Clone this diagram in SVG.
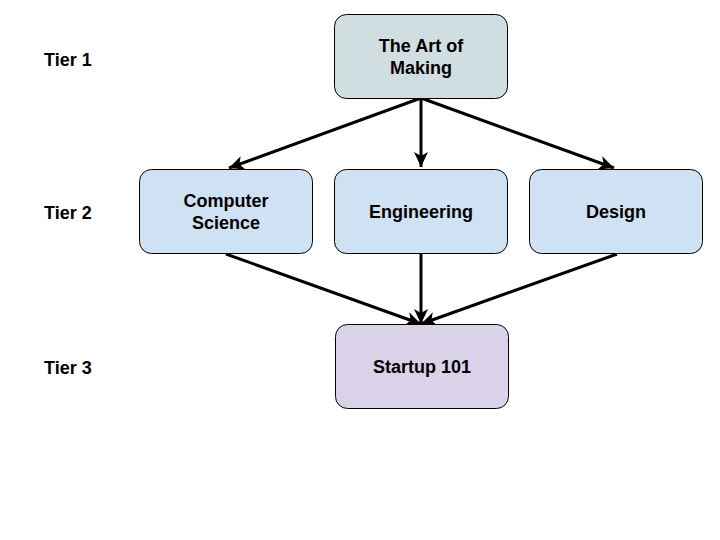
<svg xmlns="http://www.w3.org/2000/svg" width="720" height="540" viewBox="0 0 720 540">
<style>
.node{stroke:#000;stroke-width:1}
.t{font-family:"Liberation Sans",Arial,sans-serif;font-size:18px;font-weight:bold;fill:#000;text-anchor:middle;dominant-baseline:central}
.tier{font-family:"Liberation Sans",Arial,sans-serif;font-size:18px;font-weight:bold;fill:#000;dominant-baseline:central}
.edge{stroke:#000;stroke-width:3;fill:none;marker-end:url(#arr)}
</style>
<defs>
<marker id="arr" markerUnits="userSpaceOnUse" markerWidth="16" markerHeight="14" viewBox="0 0 16 14" refX="15" refY="7" orient="auto">
<path d="M0,0 L15,7 L0,14 L4,7 Z" fill="#000"/>
</marker>
</defs>
<rect width="720" height="540" fill="#fff"/>
<g id="tiers">
<text class="tier" x="44" y="60">Tier 1</text>
<text class="tier" x="44" y="213">Tier 2</text>
<text class="tier" x="44" y="368">Tier 3</text>
</g>
<g id="connectors">
<line class="edge" x1="421" y1="98" x2="229" y2="168"/>
<line class="edge" x1="421" y1="98" x2="421" y2="167"/>
<line class="edge" x1="421" y1="98" x2="614" y2="168"/>
<line class="edge" x1="226" y1="254" x2="421" y2="324"/>
<line class="edge" x1="421" y1="254" x2="421" y2="324"/>
<line class="edge" x1="617" y1="254" x2="421" y2="324"/>
</g>
<g id="art-of-making">
<rect class="node" x="334.5" y="14.5" width="173" height="84" rx="12" fill="#d0dee2"/>
<text class="t" x="421" y="46">The Art of</text>
<text class="t" x="421" y="68">Making</text>
</g>
<g id="computer-science">
<rect class="node" x="139.5" y="169.5" width="173" height="84" rx="12" fill="#cfe2f3"/>
<text class="t" x="226" y="201">Computer</text>
<text class="t" x="226" y="223">Science</text>
</g>
<g id="engineering">
<rect class="node" x="334.5" y="169.5" width="173" height="84" rx="12" fill="#cfe2f3"/>
<text class="t" x="421" y="212">Engineering</text>
</g>
<g id="design">
<rect class="node" x="529.5" y="169.5" width="173" height="84" rx="12" fill="#cfe2f3"/>
<text class="t" x="616" y="212">Design</text>
</g>
<g id="startup-101">
<rect class="node" x="335.5" y="324.5" width="173" height="84" rx="12" fill="#d9d2e9"/>
<text class="t" x="422" y="367">Startup 101</text>
</g>
</svg>
